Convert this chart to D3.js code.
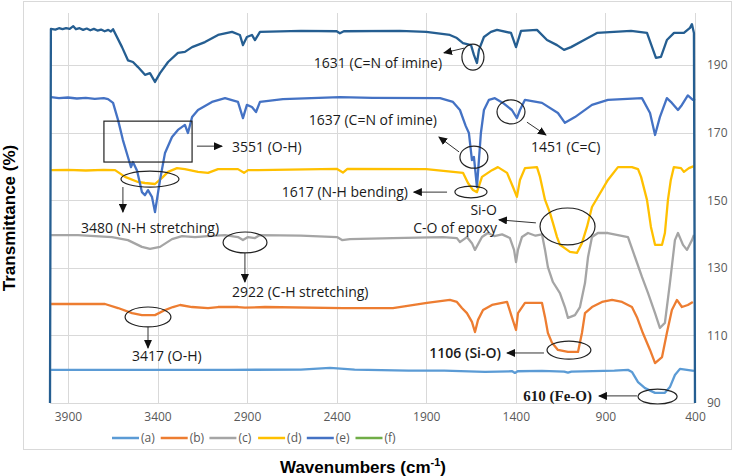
<!DOCTYPE html>
<html>
<head>
<meta charset="utf-8">
<script src="https://cdn.jsdelivr.net/npm/d3@7"></script>
<style>
  body { margin: 0; background: #fff; }
  svg { display: block; }
</style>
</head>
<body>
<svg id="chart"></svg>
<script>
var WIDTH = 734;
var HEIGHT = 476;

// axis ticks
var xTicks = [3900, 3400, 2900, 2400, 1900, 1400, 900, 400];
var yTicks = [90, 110, 130, 150, 170, 190];

// legend entries
var seriesNames = ['(a)', '(b)', '(c)', '(d)', '(e)', '(f)'];

// [wavenumber, transmittance]
var seriesA = [
    [3994, 99.8], [3500, 99.8], [3000, 99.8], [2600, 99.9], [2437, 100.4], [2300, 99.9],
    [2000, 99.6], [1800, 99.6], [1572, 99.2], [1420, 99.4], [1405, 98.9], [1390, 99.4],
    [1254, 99.5], [1130, 99.3], [1109, 99.0], [1090, 99.3], [850, 99.6], [774, 99.8],
    [752, 99.2], [718, 96.2], [679, 94.4], [623, 93.0], [568, 93.0], [540, 94.7],
    [512, 98.3], [484, 100.1], [445, 99.8], [406, 99.5]
];
var seriesB = [
    [3994, 119.3], [3693, 119.3], [3620, 118.1], [3542, 116.6], [3487, 116.0], [3414, 116.0],
    [3358, 117.5], [3314, 118.4], [3274, 119.0], [3207, 118.4], [3118, 118.1], [3062, 118.4],
    [2951, 118.4], [2912, 118.2], [2800, 118.4], [2365, 118.1], [2086, 118.1], [1896, 119.6],
    [1768, 120.5], [1729, 119.9], [1701, 118.1], [1673, 116.6], [1645, 114.0], [1628, 111.0],
    [1611, 114.6], [1583, 117.5], [1533, 119.0], [1449, 119.9], [1422, 115.4], [1399, 111.6],
    [1388, 116.6], [1349, 119.6], [1254, 119.6], [1237, 115.4], [1221, 110.7], [1198, 107.8],
    [1165, 105.7], [1109, 105.1], [1053, 105.1], [1031, 110.7], [1014, 116.6], [975, 118.4],
    [919, 119.9], [863, 120.5], [807, 119.9], [752, 118.4], [724, 115.4], [691, 110.7],
    [651, 105.7], [623, 101.8], [584, 103.6], [557, 110.7], [529, 117.5], [501, 120.5],
    [473, 118.4], [440, 119.0], [412, 119.9]
];
var seriesC = [
    [3994, 139.7], [3844, 139.7], [3654, 139.1], [3565, 138.2], [3487, 136.2], [3442, 135.6],
    [3386, 136.2], [3319, 138.5], [3263, 139.4], [3191, 139.1], [3118, 139.4], [3023, 139.7],
    [2951, 139.1], [2923, 138.2], [2895, 139.1], [2856, 138.8], [2828, 139.7], [2600, 139.5],
    [2398, 139.1], [2370, 138.2], [2326, 138.5], [2086, 138.8], [1807, 139.1], [1729, 138.8],
    [1712, 137.6], [1673, 139.1], [1645, 137.3], [1628, 135.3], [1589, 139.1], [1556, 140.3],
    [1520, 139.4], [1477, 139.9], [1433, 138.8], [1410, 135.3], [1399, 131.7], [1388, 135.3],
    [1366, 139.1], [1332, 140.3], [1290, 139.5], [1254, 139.9], [1237, 135.3], [1221, 130.2],
    [1193, 125.8], [1154, 122.5], [1126, 118.4], [1109, 115.2], [1070, 116.0], [1042, 118.4],
    [1014, 125.5], [997, 133.2], [975, 139.1], [942, 140.3], [886, 140.3], [830, 139.7],
    [774, 139.1], [735, 133.2], [696, 127.3], [662, 122.5], [623, 116.6], [596, 112.2],
    [568, 113.7], [540, 125.5], [512, 138.2], [495, 140.3], [467, 136.8], [445, 135.3],
    [417, 138.2], [406, 139.7]
];
var seriesD = [
    [3994, 158.9], [3900, 159.0], [3800, 158.8], [3700, 159.0], [3637, 158.9], [3581, 156.9],
    [3509, 155.4], [3470, 155.1], [3414, 154.8], [3375, 156.6], [3341, 158.4], [3291, 159.5],
    [3247, 159.2], [3174, 158.4], [3118, 158.1], [3062, 159.2], [2951, 159.2], [2917, 158.1],
    [2895, 158.9], [2839, 158.9], [2400, 159.3], [2365, 158.2], [2340, 159.3], [1900, 159.2],
    [1695, 158.1], [1667, 155.1], [1639, 153.0], [1617, 152.4], [1589, 156.9], [1533, 158.9],
    [1500, 159.8], [1449, 158.1], [1416, 153.9], [1394, 151.0], [1377, 156.0], [1349, 159.5],
    [1282, 159.8], [1265, 156.9], [1237, 150.1], [1209, 146.2], [1193, 143.3], [1170, 139.1],
    [1154, 136.8], [1137, 136.2], [1098, 134.7], [1059, 134.4], [1031, 137.3], [1003, 142.1],
    [975, 148.0], [947, 150.5], [886, 156.0], [830, 159.8], [752, 159.8], [718, 159.2],
    [701, 156.9], [668, 150.1], [646, 142.1], [623, 136.8], [584, 136.8], [568, 140.3],
    [551, 150.1], [535, 156.0], [518, 159.8], [478, 159.5], [462, 158.4], [434, 159.5],
    [406, 160.1]
];
var seriesE = [
    [3994, 180.5], [3950, 180.2], [3900, 180.4], [3850, 180.1], [3800, 180.3], [3750, 180.0],
    [3700, 180.2], [3676, 179.9], [3648, 178.8], [3620, 173.7], [3593, 167.8], [3565, 162.8],
    [3548, 159.8], [3537, 161.3], [3514, 158.7], [3487, 152.4], [3470, 151.5], [3453, 153.0],
    [3431, 151.0], [3414, 146.5], [3386, 156.0], [3358, 164.0], [3319, 168.7], [3286, 170.8],
    [3247, 172.3], [3230, 169.9], [3207, 174.6], [3174, 176.7], [3096, 179.1], [3023, 180.2],
    [2951, 179.1], [2923, 174.3], [2901, 178.2], [2873, 177.6], [2850, 176.1], [2828, 179.1],
    [2700, 179.9], [2382, 180.5], [2200, 180.3], [1823, 180.2], [1751, 179.1], [1712, 176.7],
    [1680, 172.0], [1662, 169.9], [1645, 161.9], [1634, 162.8], [1617, 153.9], [1595, 169.9],
    [1578, 176.7], [1550, 179.7], [1517, 180.2], [1472, 178.8], [1422, 176.7], [1394, 174.3],
    [1377, 176.7], [1349, 179.7], [1254, 178.8], [1165, 175.8], [1126, 172.9], [1070, 174.6],
    [975, 178.2], [886, 179.7], [696, 180.2], [651, 175.8], [623, 169.3], [596, 174.6],
    [557, 180.2], [529, 178.8], [495, 176.7], [473, 178.2], [440, 181.0], [412, 179.7],
    [400, 180.0]
];
var seriesF = [];
// unlabelled dark trace at the top
var seriesTop = [
    [4000, 90], [3995, 200.7], [3970, 200.5], [3950, 200.9], [3930, 200.6], [3910, 200.9],
    [3890, 200.7], [3870, 201.5], [3855, 200.6], [3835, 200.9], [3815, 200.4], [3795, 200.8],
    [3775, 200.3], [3755, 200.7], [3735, 200.2], [3715, 200.5], [3695, 200.0], [3675, 200.4],
    [3660, 199.9], [3648, 200.6], [3598, 195.3], [3565, 191.4], [3537, 190.9], [3509, 189.4],
    [3470, 187.1], [3442, 187.6], [3414, 185.0], [3386, 187.6], [3341, 190.9], [3286, 193.6],
    [3247, 193.9], [3207, 195.3], [3135, 196.8], [3062, 198.9], [2984, 199.8], [2940, 198.9],
    [2923, 195.9], [2901, 198.3], [2873, 198.9], [2856, 197.4], [2828, 199.8], [2600, 200.1],
    [2400, 200.0], [2382, 199.4], [2360, 200.0], [2047, 200.1], [1900, 199.8], [1768, 198.9],
    [1729, 198.0], [1695, 196.5], [1650, 195.9], [1634, 193.0], [1617, 190.6], [1606, 194.5],
    [1578, 198.3], [1539, 199.8], [1505, 200.4], [1427, 199.5], [1399, 195.3], [1371, 200.1],
    [1282, 200.4], [1226, 197.4], [1170, 195.9], [1131, 194.5], [1092, 195.3], [1019, 197.4],
    [947, 199.5], [757, 200.1], [668, 199.5], [618, 192.1], [590, 192.4], [557, 197.4],
    [517, 199.5], [462, 199.5], [428, 201.0], [417, 202.1], [406, 199.5], [400, 90]
];

// annotations, in data units
var noteTexts = [
    { text: '1631 (C=N of imine)', w: 1812, t: 190.6, anchor: 'end' },
    { text: '1637 (C=N of imine)', w: 1840, t: 173.7, anchor: 'end' },
    { text: '1451 (C=C)', w: 1316, t: 165.8, anchor: 'start' },
    { text: '3551 (O-H)', w: 2984, t: 165.8, anchor: 'start' },
    { text: '3480 (N-H stretching)', w: 3442, t: 141.8, anchor: 'middle' },
    { text: '1617 (N-H bending)', w: 2002, t: 152.4, anchor: 'end' },
    { text: 'Si-O', w: 1505, t: 147.1, anchor: 'end' },
    { text: 'C-O of epoxy', w: 1505, t: 141.8, anchor: 'end' },
    { text: '2922 (C-H stretching)', w: 2984, t: 122.8, anchor: 'start' },
    { text: '3417 (O-H)', w: 3542, t: 103.9, anchor: 'start' },
    { text: '1106 (Si-O)', w: 1483, t: 104.8, anchor: 'end', bold: true },
    { text: '610 (Fe-O)', w: 975, t: 92.1, anchor: 'end', serif: true, bold: true }
];
var noteEllipses = [
    [1701, 1578, 196.2, 188.5],
    [1712, 1556, 166.0, 159.5],
    [1505, 1349, 179.7, 172.6],
    [3604, 3280, 158.6, 153.9],
    [1740, 1561, 154.2, 150.7],
    [1265, 958, 147.7, 136.8],
    [3034, 2789, 140.6, 134.4],
    [3581, 3325, 118.4, 112.5],
    [1226, 981, 108.3, 103.0],
    [718, 500, 94.1, 89.7]
];
var noteBoxes = [
    [3699, 3207, 173.4, 161.3]
];
var noteArrows = [
    [1689, 195.0, 1801, 193.6],
    [1717, 164.3, 1829, 168.7],
    [1338, 173.1, 1232, 169.3],
    [3180, 166.0, 3040, 166.0],
    [3593, 153.9, 3593, 146.5],
    [1784, 152.4, 1969, 152.4],
    [1288, 143.3, 1494, 144.2],
    [2912, 134.4, 2912, 125.8],
    [3453, 112.5, 3453, 106.3],
    [1243, 104.8, 1449, 104.8],
    [724, 92.1, 936, 92.1]
];

var seriesList = [
    { name: '(a)', values: seriesA, color: '#5B9BD5' },
    { name: '(b)', values: seriesB, color: '#ED7D31' },
    { name: '(c)', values: seriesC, color: '#A5A5A5' },
    { name: '(d)', values: seriesD, color: '#FFC000' },
    { name: '(e)', values: seriesE, color: '#4472C4' },
    { name: '(f)', values: seriesF, color: '#70AD47' },
    { name: '', values: seriesTop, color: '#255E91' }
];

var PLOT = { left: 50, right: 695, top: 13, bottom: 403 };
var SANS = "'Open Sans', 'DejaVu Sans', sans-serif";

var svg = d3.select('#chart')
    .attr('width', WIDTH)
    .attr('height', HEIGHT)
    .style('font-family', SANS);

svg.append('rect')
    .attr('x', 23.5).attr('y', 1.5)
    .attr('width', 708).attr('height', 448)
    .attr('fill', '#fff')
    .attr('stroke', '#d9d9d9');

var xScale = d3.scaleLinear().domain([4000, 400]).range([PLOT.left, PLOT.right]);
var yScale = d3.scaleLinear().domain([90, 205.4]).range([PLOT.bottom, PLOT.top]);

// gridlines
var grid = svg.append('g');
grid.selectAll('line.vx')
    .data(xTicks)
    .enter()
    .append('line')
    .attr('x1', function(d){ return Math.round(xScale(d)) + 0.5; })
    .attr('x2', function(d){ return Math.round(xScale(d)) + 0.5; })
    .attr('y1', PLOT.top)
    .attr('y2', PLOT.bottom)
    .attr('stroke', '#d9d9d9');
grid.selectAll('line.hy')
    .data(yTicks)
    .enter()
    .append('line')
    .attr('x1', PLOT.left)
    .attr('x2', PLOT.right)
    .attr('y1', function(d){ return Math.round(yScale(d)) + 0.5; })
    .attr('y2', function(d){ return Math.round(yScale(d)) + 0.5; })
    .attr('stroke', '#d9d9d9');

// axes (labels only)
var bottomAxis = d3.axisBottom(xScale).tickValues(xTicks).tickFormat(d3.format('d'))
    .tickSize(0).tickPadding(9);
svg.append('g')
    .attr('transform', 'translate(0,' + PLOT.bottom + ')')
    .call(bottomAxis)
    .call(function(g){ g.select('.domain').remove(); })
    .selectAll('text')
    .attr('fill', '#595959')
    .style('font-family', SANS)
    .style('font-size', '12px');

var rightAxis = d3.axisRight(yScale).tickValues(yTicks).tickFormat(d3.format('d'))
    .tickSize(0).tickPadding(12);
svg.append('g')
    .attr('transform', 'translate(' + PLOT.right + ',0)')
    .call(rightAxis)
    .call(function(g){ g.select('.domain').remove(); })
    .selectAll('text')
    .attr('fill', '#595959')
    .style('font-family', SANS)
    .style('font-size', '12px');

// series
var line = d3.line()
    .x(function(d){ return xScale(d[0]); })
    .y(function(d){ return yScale(d[1]); });

svg.append('g').selectAll('path')
    .data(seriesList.filter(function(s){ return s.values.length; }))
    .enter()
    .append('path')
    .attr('d', function(s){ return line(s.values); })
    .attr('fill', 'none')
    .attr('stroke', function(s){ return s.color; })
    .attr('stroke-width', 2.3)
    .attr('stroke-linejoin', 'round');

// annotations
svg.append('defs').append('marker')
    .attr('id', 'head')
    .attr('markerUnits', 'userSpaceOnUse')
    .attr('markerWidth', 9).attr('markerHeight', 8)
    .attr('refX', 8).attr('refY', 4)
    .attr('orient', 'auto')
    .append('path')
    .attr('d', 'M0,0 L9,4 L0,8 Z')
    .attr('fill', '#111');

var notes = svg.append('g');
notes.selectAll('ellipse')
    .data(noteEllipses)
    .enter()
    .append('ellipse')
    .attr('cx', function(d){ return (xScale(d[0]) + xScale(d[1])) / 2; })
    .attr('cy', function(d){ return (yScale(d[2]) + yScale(d[3])) / 2; })
    .attr('rx', function(d){ return Math.abs(xScale(d[1]) - xScale(d[0])) / 2; })
    .attr('ry', function(d){ return Math.abs(yScale(d[3]) - yScale(d[2])) / 2; })
    .attr('fill', 'none')
    .attr('stroke', '#222')
    .attr('stroke-width', 1.2);

notes.selectAll('rect')
    .data(noteBoxes)
    .enter()
    .append('rect')
    .attr('x', function(d){ return xScale(d[0]); })
    .attr('y', function(d){ return yScale(d[2]); })
    .attr('width', function(d){ return xScale(d[1]) - xScale(d[0]); })
    .attr('height', function(d){ return yScale(d[3]) - yScale(d[2]); })
    .attr('fill', 'none')
    .attr('stroke', '#222')
    .attr('stroke-width', 1.2);

notes.selectAll('line')
    .data(noteArrows)
    .enter()
    .append('line')
    .attr('x1', function(d){ return xScale(d[0]); })
    .attr('y1', function(d){ return yScale(d[1]); })
    .attr('x2', function(d){ return xScale(d[2]); })
    .attr('y2', function(d){ return yScale(d[3]); })
    .attr('stroke', '#333')
    .attr('stroke-width', 1)
    .attr('marker-end', 'url(#head)');

notes.selectAll('text')
    .data(noteTexts)
    .enter()
    .append('text')
    .attr('x', function(d){ return xScale(d.w); })
    .attr('y', function(d){ return yScale(d.t); })
    .attr('dy', '0.35em')
    .attr('text-anchor', function(d){ return d.anchor; })
    .attr('fill', '#1a1a1a')
    .style('font-family', function(d){ return d.serif ? "'Liberation Serif', 'DejaVu Serif', serif" : SANS; })
    .style('font-weight', function(d){ return d.bold ? (d.serif ? 'bold' : 600) : 'normal'; })
    .style('font-size', function(d){ return d.serif ? '15px' : '14px'; })
    .text(function(d){ return d.text; });

// legend
var legend = svg.append('g').attr('transform', 'translate(112,438)');
var item = legend.selectAll('g')
    .data(seriesNames)
    .enter()
    .append('g')
    .attr('transform', function(d, i){ return 'translate(' + (i * 48.7) + ',0)'; });
item.append('line')
    .attr('x1', 0).attr('x2', 27)
    .attr('stroke', function(d, i){ return seriesList[i].color; })
    .attr('stroke-width', 2.5);
item.append('text')
    .attr('x', 29)
    .attr('dy', '0.35em')
    .attr('fill', '#595959')
    .style('font-size', '12px')
    .text(function(d){ return d; });

// axis titles
svg.append('text')
    .attr('transform', 'translate(15,218) rotate(-90)')
    .attr('text-anchor', 'middle')
    .style('font-family', "'Liberation Sans', Arial, sans-serif")
    .style('font-weight', 'bold')
    .style('font-size', '17px')
    .attr('fill', '#000')
    .text('Transmittance (%)');

var xTitle = svg.append('text')
    .attr('x', 363)
    .attr('y', 473)
    .attr('text-anchor', 'middle')
    .style('font-family', "'Liberation Sans', Arial, sans-serif")
    .style('font-weight', 'bold')
    .style('font-size', '17px')
    .attr('fill', '#000');
xTitle.append('tspan').text('Wavenumbers (cm');
xTitle.append('tspan').attr('dy', -7).style('font-size', '11px').text('-1');
xTitle.append('tspan').attr('dy', 7).text(')');
</script>
</body>
</html>
